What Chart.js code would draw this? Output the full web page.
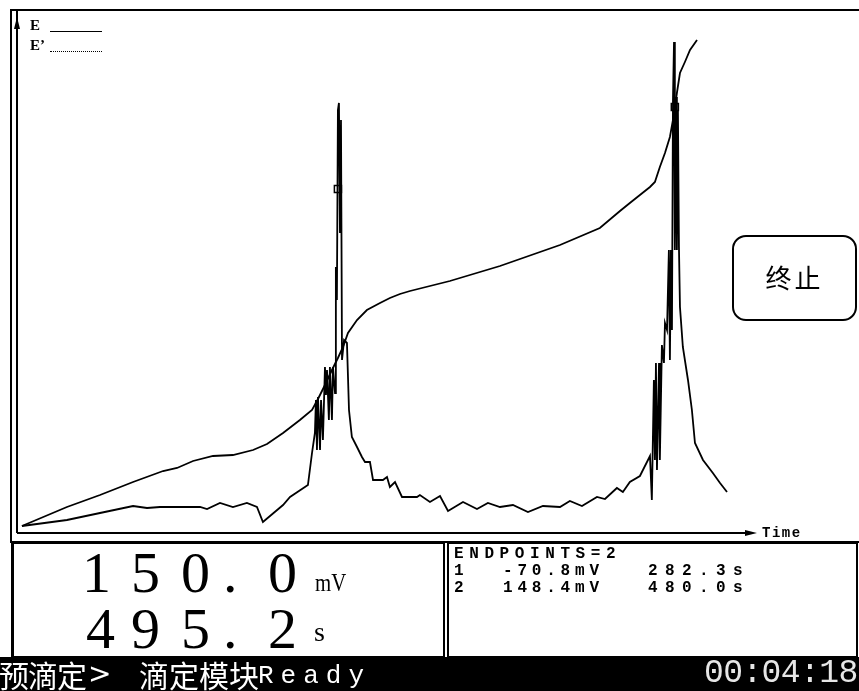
<!DOCTYPE html>
<html>
<head>
<meta charset="utf-8">
<script src="https://cdn.jsdelivr.net/npm/chart.js@4.4.1/dist/chart.umd.min.js"></script>
<style>
  body { margin: 0; background: #fff; }
  #wrap { position: relative; width: 859px; height: 691px; overflow: hidden; background: #fff; }
  #plot { position: absolute; left: 0; top: 0; }
  .abs { position: absolute; white-space: pre; color: #000; }
  .leg { font: bold 15px "Liberation Serif", serif; }
  .big { font: 58px "Liberation Serif", serif; line-height: 1; }
  .mono { font: bold 16px "Liberation Mono", monospace; line-height: 1; }
  .panel { position: absolute; box-sizing: border-box; border: 2px solid #000; }
  .cjk { color: #fff; font: 30px "Noto Sans CJK SC", sans-serif; line-height: 38px; }
</style>
</head>
<body>
<div id="wrap">
  <canvas id="plot" width="859" height="545"></canvas>

  <!-- legend -->
  <div class="abs leg" style="left:30px; top:17px;">E</div>
  <div class="abs" style="left:50px; top:31px; width:52px; border-top:1.5px solid #000;"></div>
  <div class="abs leg" style="left:30px; top:37px;">E’</div>
  <div class="abs" style="left:50px; top:51px; width:52px; border-top:1.5px dotted #000;"></div>

  <!-- x axis name -->
  <div class="abs mono" style="left:762px; top:526px; font-size:14px; letter-spacing:1.5px;">Time</div>

  <!-- stop button -->
  <div class="abs" style="left:732px; top:235px; width:125px; height:86px; box-sizing:border-box; border:2px solid #000; border-radius:14px; font:26px 'Noto Sans CJK SC', sans-serif; text-align:center; line-height:80px; letter-spacing:3px;">终止</div>

  <!-- reading panel -->
  <div class="panel" style="left:11px; top:542px; width:434px; height:116px; border-left-width:3px;"></div>
  <div class="abs big" style="left:82px; top:544px;">1</div>
  <div class="abs big" style="left:131px; top:544px;">5</div>
  <div class="abs big" style="left:181px; top:544px;">0</div>
  <div class="abs big" style="left:223px; top:544px;">.</div>
  <div class="abs big" style="left:268px; top:544px;">0</div>
  <div class="abs" style="left:315px; top:570px; font:26px 'Liberation Serif', serif; transform:scaleX(0.8); transform-origin:left top; line-height:1;">mV</div>
  <div class="abs big" style="left:86px; top:600px;">4</div>
  <div class="abs big" style="left:131px; top:600px;">9</div>
  <div class="abs big" style="left:181px; top:600px;">5</div>
  <div class="abs big" style="left:223px; top:600px;">.</div>
  <div class="abs big" style="left:268px; top:600px;">2</div>
  <div class="abs" style="left:314px; top:618px; font:28px 'Liberation Serif', serif; line-height:1;">s</div>

  <!-- endpoints panel -->
  <div class="panel" style="left:447px; top:542px; width:411px; height:116px;"></div>
  <div class="abs mono" style="left:454px; top:546px; letter-spacing:5.6px;">ENDPOINTS=2</div>
  <div class="abs mono" style="left:454px; top:563px;">1</div>
  <div class="abs mono" style="left:503px; top:563px; letter-spacing:4.8px;">-70.8mV</div>
  <div class="abs mono" style="left:648px; top:563px; letter-spacing:7.4px;">282.3s</div>
  <div class="abs mono" style="left:454px; top:580px;">2</div>
  <div class="abs mono" style="left:503px; top:580px; letter-spacing:4.8px;">148.4mV</div>
  <div class="abs mono" style="left:648px; top:580px; letter-spacing:7.4px;">480.0s</div>

  <!-- status bar -->
  <div class="abs" style="left:0; top:657px; width:859px; height:34px; background:#000;"></div>
  <div class="abs cjk" style="left:-1px; top:655px; letter-spacing:-1px;">预滴定</div>
  <div class="abs cjk" style="left:88px; top:655px; font-family:'DejaVu Sans', sans-serif; font-size:28px;">&gt;</div>
  <div class="abs cjk" style="left:139px; top:655px;">滴定模块</div>
  <div class="abs" style="left:258px; top:659px; color:#fff; font:26px 'Liberation Mono', monospace; letter-spacing:7px; line-height:34px;">Ready</div>
  <div class="abs" style="left:704px; top:656px; color:#e6e6e6; font:33px 'Liberation Mono', monospace; letter-spacing:-0.6px; line-height:36px;">00:04:18</div>
</div>

<script>
// E curve (time in s, potential in relative mV)
const timesE = [96.9, 123.3, 142.7, 162.1, 179.7, 187.9, 197.3, 209.0, 220.7, 232.5, 240.7, 250.1,
  260.0, 267.1, 270.6, 274.7, 278.8, 282.3, 285.3, 288.2, 293.5, 299.3, 307.0, 312.8, 318.7, 324.6,
  348.0, 377.4, 412.6, 436.0, 447.8, 453.6, 459.5, 465.4, 468.3, 471.2, 474.2, 477.1, 478.9, 480.0,
  481.2, 483.0, 485.9, 488.9, 493.0];
const valuesE = [3.5, 13, 19, 25.5, 31, 32.5, 36, 38.5, 39, 41.5, 44.5, 50,
  56.5, 61.5, 67, 74, 81.5, 87.5, 93, 100, 106.5, 111.5, 115, 117.5, 119.5, 121,
  126, 133.5, 144, 152.5, 161, 165, 169, 173, 175.5, 183, 190, 198, 206.5, 213,
  220, 230, 235.5, 241.5, 246.5];

// E' curve (first derivative)
const timesD = [96.9, 123.3, 142.7, 162.1, 170.3, 177.9, 201.4, 205.5, 213.1, 220.7, 228.9, 234.8,
  238.3, 250.1, 254.2, 264.7, 267.1, 268.8, 269.4, 270.0, 270.6, 271.8, 272.4, 273.5, 274.7, 275.3,
  275.9, 277.0, 277.6, 278.8, 279.4, 280.6, 281.1, 281.7, 282.3, 282.9, 283.5, 284.1, 284.7, 285.9,
  287.6, 288.8, 290.5, 293.5, 296.4, 298.2, 301.1, 302.9, 308.7, 311.1, 312.8, 315.8, 319.9, 328.7,
  330.4, 336.3, 342.2, 346.9, 355.7, 363.9, 370.3, 377.4, 385.0, 393.8, 402.6, 412.6, 418.4, 425.5,
  434.3, 439.0, 446.0, 449.5, 453.6, 459.5, 465.4, 466.5, 467.7, 468.3, 468.9, 469.5, 470.7, 471.2,
  472.4, 473.6, 474.2, 475.4, 476.5, 477.1, 477.7, 478.3, 478.9, 479.5, 480.0, 480.7, 481.2, 481.8,
  482.4, 483.0, 484.7, 487.7, 490.0, 491.8, 496.5, 502.3, 506.5, 510.6];
const valuesD = [3.5, 6.5, 10, 13.5, 12.5, 13, 13, 12, 15, 13, 15, 13,
  5.5, 14, 18, 24, 40, 50, 66.5, 41.5, 68, 41.5, 66.5, 46.5, 83, 69,
  81.5, 56.5, 83, 56.5, 83, 70, 133, 116.5, 211.5, 215, 150, 206.5, 86.5, 96.5,
  95, 61.5, 48, 43, 38, 35.5, 35.5, 26.5, 26.5, 28, 23, 25.5, 18, 18,
  19, 15.5, 18.5, 11, 15.5, 12, 15, 13, 14, 10.5, 13.5, 13, 16, 13.5,
  18, 17, 22.5, 20.5, 25.5, 28.5, 38.5, 16.5, 76.5, 36.5, 85, 31.5, 85, 36.5,
  94, 85, 105, 101.5, 141.5, 86.5, 141.5, 101.5, 216.5, 245.5, 141.5, 218, 141.5, 211.5,
  143, 113, 93, 76.5, 61.5, 45, 36.5, 30, 25, 20.5];

// endpoint markers
const endpointTimes = [282.3, 480.0];
const endpointMarks = [172, 213];

const toPoints = (xs, ys) => xs.map((x, i) => ({ x: x, y: ys[i] }));

// frame + arrowed axes
const framePlugin = {
  id: "frame",
  beforeDatasetsDraw(chart) {
    const { ctx, chartArea } = chart;
    const { left, top, right, bottom } = chartArea;
    ctx.save();
    ctx.strokeStyle = "#000";
    ctx.fillStyle = "#000";
    ctx.lineWidth = 2;
    // outer frame
    ctx.beginPath();
    ctx.moveTo(chart.width, top - 1);
    ctx.lineTo(left - 6, top - 1);
    ctx.lineTo(left - 6, bottom + 9);
    ctx.lineTo(chart.width, bottom + 9);
    ctx.stroke();
    // y axis with arrow
    ctx.beginPath();
    ctx.moveTo(left, bottom);
    ctx.lineTo(left, top);
    ctx.stroke();
    ctx.beginPath();
    ctx.moveTo(left, top + 6);
    ctx.lineTo(left - 3, top + 18);
    ctx.lineTo(left + 3, top + 18);
    ctx.closePath();
    ctx.fill();
    // x axis with arrow
    ctx.beginPath();
    ctx.moveTo(left, bottom);
    ctx.lineTo(right - 4, bottom);
    ctx.stroke();
    ctx.beginPath();
    ctx.moveTo(right, bottom);
    ctx.lineTo(right - 12, bottom - 3);
    ctx.lineTo(right - 12, bottom + 3);
    ctx.closePath();
    ctx.fill();
    ctx.restore();
  },
};

const ctx = document.getElementById("plot").getContext("2d");
new Chart(ctx, {
  type: "line",
  data: {
    datasets: [
      {
        label: "E",
        data: toPoints(timesE, valuesE),
        borderColor: "#000",
        borderWidth: 1.8,
        pointRadius: 0,
        tension: 0,
      },
      {
        label: "E'",
        data: toPoints(timesD, valuesD),
        borderColor: "#000",
        borderWidth: 1.8,
        pointRadius: 0,
        tension: 0,
      },
      {
        label: "endpoints",
        type: "scatter",
        data: toPoints(endpointTimes, endpointMarks),
        pointStyle: "rect",
        pointRadius: 5,
        borderColor: "#000",
        borderWidth: 1.5,
        backgroundColor: "rgba(0,0,0,0)",
      },
    ],
  },
  options: {
    responsive: false,
    animation: false,
    layout: {
      padding: { left: 17, top: 11, right: 102, bottom: 12 },
    },
    plugins: {
      legend: { display: false },
      tooltip: { enabled: false },
    },
    scales: {
      x: { type: "linear", min: 94, max: 528.2, display: false },
      y: { min: 0, max: 261, display: false },
    },
  },
  plugins: [framePlugin],
});
</script>
</body>
</html>
